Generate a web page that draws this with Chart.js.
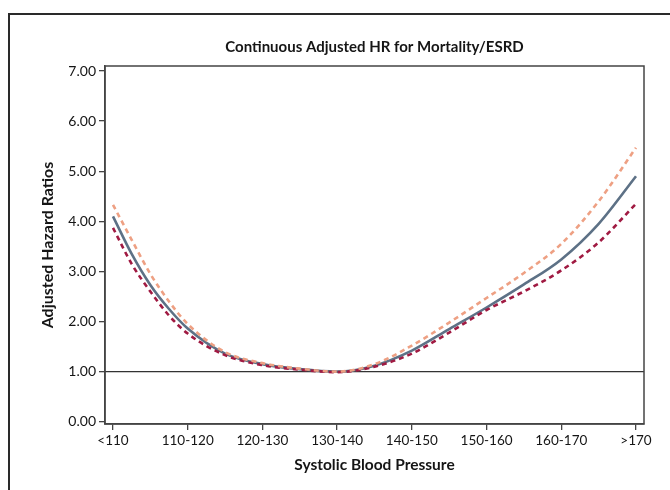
<!DOCTYPE html>
<html>
<head>
<meta charset="utf-8">
<script src="https://cdn.jsdelivr.net/npm/chart.js@4/dist/chart.umd.min.js"></script>
<style>
  html, body { margin: 0; padding: 0; background: #fff; overflow: hidden; }
  #wrap { position: relative; width: 670px; height: 490px; }
  #frame { position: absolute; left: 8px; top: 13px; width: 700px; height: 520px; border: 2px solid #2a2a2a; }
  #chart { position: absolute; left: 0; top: 0; }
</style>
</head>
<body>
<div id="wrap">
  <div id="frame"></div>
  <canvas id="chart" width="670" height="490"></canvas>
</div>
<script>
const X_LABELS = ['<110', '110-120', '120-130', '130-140', '140-150', '150-160', '160-170', '>170'];
const Y_TICKS = [0, 1, 2, 3, 4, 5, 6, 7];
const X_POS = [0, 0.25, 0.5, 0.75, 1, 1.5, 2, 2.5, 3, 3.5, 4, 4.5, 5, 5.5, 6, 6.5, 7];
const HR_MAIN = [4.1, 3.35, 2.73, 2.25, 1.86, 1.36, 1.15, 1.05, 1.0, 1.12, 1.42, 1.85, 2.28, 2.74, 3.24, 3.95, 4.9];
const HR_UPPER = [4.33, 3.63, 2.95, 2.4, 1.95, 1.39, 1.17, 1.06, 1.0, 1.15, 1.52, 1.98, 2.47, 2.97, 3.55, 4.4, 5.47];
const HR_LOWER = [3.87, 3.15, 2.6, 2.12, 1.76, 1.33, 1.13, 1.04, 0.99, 1.1, 1.36, 1.78, 2.23, 2.6, 3.02, 3.58, 4.35];
const REF_VALUE = 1;

const FONT = 'Lato, "Open Sans", sans-serif';
const AXIS_COLOR = '#444';
const TEXT_COLOR = '#151515';

function toPoints(values) {
  return values.map((y, i) => ({ x: X_POS[i], y }));
}

// box around the plot + the HR = 1 reference line, title centred over the plot
const plotFrame = {
  id: 'plotFrame',
  afterLayout(chart) {
    if (chart.titleBlock) {
      chart.titleBlock.left = chart.chartArea.left;
      chart.titleBlock.right = chart.chartArea.right;
    }
  },
  beforeDatasetsDraw(chart) {
    const { ctx, chartArea, scales } = chart;
    const y = scales.y.getPixelForValue(REF_VALUE);
    ctx.save();
    ctx.strokeStyle = '#333';
    ctx.lineWidth = 1.2;
    ctx.beginPath();
    ctx.moveTo(chartArea.left, y);
    ctx.lineTo(chartArea.right, y);
    ctx.stroke();
    ctx.restore();
  },
  afterDraw(chart) {
    const { ctx, chartArea } = chart;
    ctx.save();
    ctx.strokeStyle = AXIS_COLOR;
    ctx.lineWidth = 1.5;
    ctx.strokeRect(chartArea.left, chartArea.top, chartArea.right - chartArea.left, chartArea.bottom - chartArea.top);
    ctx.restore();
  },
};

const lineDefaults = {
  pointRadius: 0,
  borderWidth: 2.6,
  fill: false,
  cubicInterpolationMode: 'monotone',
};

new Chart(document.getElementById('chart'), {
  type: 'line',
  data: {
    datasets: [
      { ...lineDefaults, label: 'Upper', data: toPoints(HR_UPPER), borderColor: '#eea083', borderDash: [5, 4] },
      { ...lineDefaults, label: 'Lower', data: toPoints(HR_LOWER), borderColor: '#a01a42', borderDash: [5, 4] },
      { ...lineDefaults, label: 'HR', data: toPoints(HR_MAIN), borderColor: '#5d7186' },
    ],
  },
  options: {
    responsive: false,
    animation: false,
    layout: { padding: { top: 30, right: 26, bottom: 6, left: 0 } },
    plugins: {
      legend: { display: false },
      tooltip: { enabled: false },
      title: {
        display: true,
        text: 'Continuous Adjusted HR for Mortality/ESRD',
        color: TEXT_COLOR,
        font: { family: FONT, size: 15, weight: 'bold' },
        padding: { top: 8, bottom: 10 },
      },
    },
    scales: {
      x: {
        type: 'linear',
        min: -0.107,
        max: 7.107,
        afterFit(scale) { scale.height = 60; },
        afterBuildTicks(scale) { scale.ticks = X_LABELS.map((_, i) => ({ value: i })); },
        ticks: {
          color: TEXT_COLOR,
          font: { family: FONT, size: 13.5 },
          padding: 3,
          maxRotation: 0,
          callback: (v) => X_LABELS[v],
        },
        grid: { drawOnChartArea: false, color: AXIS_COLOR, tickLength: 6, lineWidth: 1.3 },
        border: { color: AXIS_COLOR, width: 1.5 },
        title: {
          display: true,
          text: 'Systolic Blood Pressure',
          color: TEXT_COLOR,
          font: { family: FONT, size: 15.5, weight: 'bold' },
          padding: { top: 4, bottom: 10 },
        },
      },
      y: {
        min: -0.045,
        max: 7.1,
        afterFit(scale) { scale.width = 105; },
        afterBuildTicks(scale) { scale.ticks = Y_TICKS.map((v) => ({ value: v })); },
        ticks: {
          color: TEXT_COLOR,
          font: { family: FONT, size: 14 },
          padding: 3,
          callback: (v) => v.toFixed(2),
        },
        grid: { drawOnChartArea: false, color: AXIS_COLOR, tickLength: 6, lineWidth: 1.3 },
        border: { color: AXIS_COLOR, width: 1.5 },
        title: {
          display: true,
          text: 'Adjusted Hazard Ratios',
          color: TEXT_COLOR,
          font: { family: FONT, size: 16, weight: 'bold' },
          padding: { top: 38, bottom: 4 },
        },
      },
    },
  },
  plugins: [plotFrame],
});
</script>
</body>
</html>
